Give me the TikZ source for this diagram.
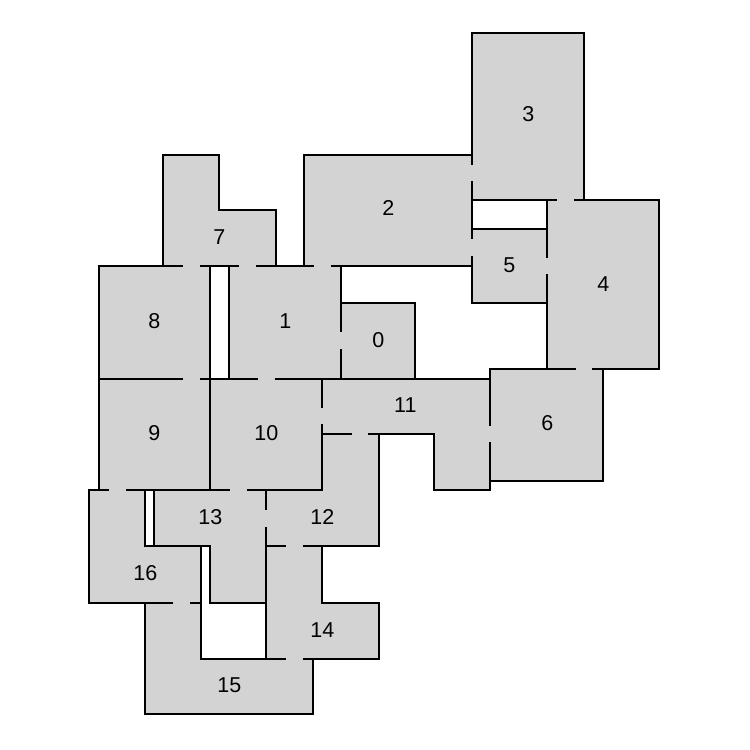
\documentclass[tikz,border=0pt]{standalone}
\usepackage{fontspec}
\setmainfont{Liberation Sans}
\definecolor{roomgray}{RGB}{211, 211, 211}

\begin{document}
\begin{tikzpicture}[
        x=1pt, y=-1pt,
        room/.style={draw=black, fill=roomgray, line width=1.9pt, line join=miter},
        door/.style={draw=roomgray, line width=2.8pt},
        label/.style={font=\fontsize{21.5}{24}\selectfont, inner sep=0pt, xshift=0.4pt, yshift=-0.1pt}
    ]
        \useasboundingbox (0,0) rectangle (750,750);

        % Rooms
        \draw[room] (341,303) rectangle (415,379);
        \draw[room] (229,266) rectangle (341,379);
        \draw[room] (304,155) rectangle (472,266);
        \draw[room] (472,33) rectangle (584,200);
        \draw[room] (547,200) rectangle (659,369);
        \draw[room] (472,229) rectangle (547,303);
        \draw[room] (490,369) rectangle (603,481);
        \draw[room] (163,155) -- (219,155) -- (219,210) -- (276,210) -- (276,266) -- (163,266) -- cycle;
        \draw[room] (99,266) rectangle (210,379);
        \draw[room] (99,379) rectangle (210,490);
        \draw[room] (210,379) rectangle (322,490);
        \draw[room] (322,379) -- (490,379) -- (490,490) -- (434,490) -- (434,434) -- (322,434) -- cycle;
        \draw[room] (322,434) -- (379,434) -- (379,546) -- (266,546) -- (266,490) -- (322,490) -- cycle;
        \draw[room] (154,490) -- (266,490) -- (266,603) -- (210,603) -- (210,546) -- (154,546) -- cycle;
        \draw[room] (266,546) -- (322,546) -- (322,603) -- (379,603) -- (379,659) -- (266,659) -- cycle;
        \draw[room] (145,603) -- (201,603) -- (201,659) -- (313,659) -- (313,714) -- (145,714) -- cycle;
        \draw[room] (89,490) -- (145,490) -- (145,546) -- (201,546) -- (201,603) -- (89,603) -- cycle;

        % Doors
        \draw[door] (472,165) -- (472,181);
        \draw[door] (557,200) -- (574,200);
        \draw[door] (472,239) -- (472,256);
        \draw[door] (547,258) -- (547,274);
        \draw[door] (314,266) -- (331,266);
        \draw[door] (341,332) -- (341,349);
        \draw[door] (576,369) -- (592,369);
        \draw[door] (490,426) -- (490,442);
        \draw[door] (322,408) -- (322,424);
        \draw[door] (352,434) -- (368,434);
        \draw[door] (183,266) -- (200,266);
        \draw[door] (239,266) -- (256,266);
        \draw[door] (183,379) -- (200,379);
        \draw[door] (258,379) -- (275,379);
        \draw[door] (109,490) -- (126,490);
        \draw[door] (230,490) -- (247,490);
        \draw[door] (266,510) -- (266,527);
        \draw[door] (286,546) -- (303,546);
        \draw[door] (173,603) -- (190,603);
        \draw[door] (286,659) -- (303,659);

        % Labels
        \node[label] (r0) at (378,340) {0};
        \node[label] (r1) at (285,321) {1};
        \node[label] (r2) at (388,208) {2};
        \node[label] (r3) at (528,114) {3};
        \node[label] (r4) at (603,284) {4};
        \node[label] (r5) at (509,265) {5};
        \node[label] (r6) at (547,423) {6};
        \node[label] (r7) at (219,237) {7};
        \node[label] (r8) at (154,321) {8};
        \node[label] (r9) at (154,433) {9};
        \node[label] (r10) at (266,433) {10};
        \node[label] (r11) at (405,405) {11};
        \node[label] (r12) at (322,517) {12};
        \node[label] (r13) at (210,517) {13};
        \node[label] (r14) at (322,630) {14};
        \node[label] (r15) at (229,685) {15};
        \node[label] (r16) at (145,573) {16};
    \end{tikzpicture}
\end{document}
